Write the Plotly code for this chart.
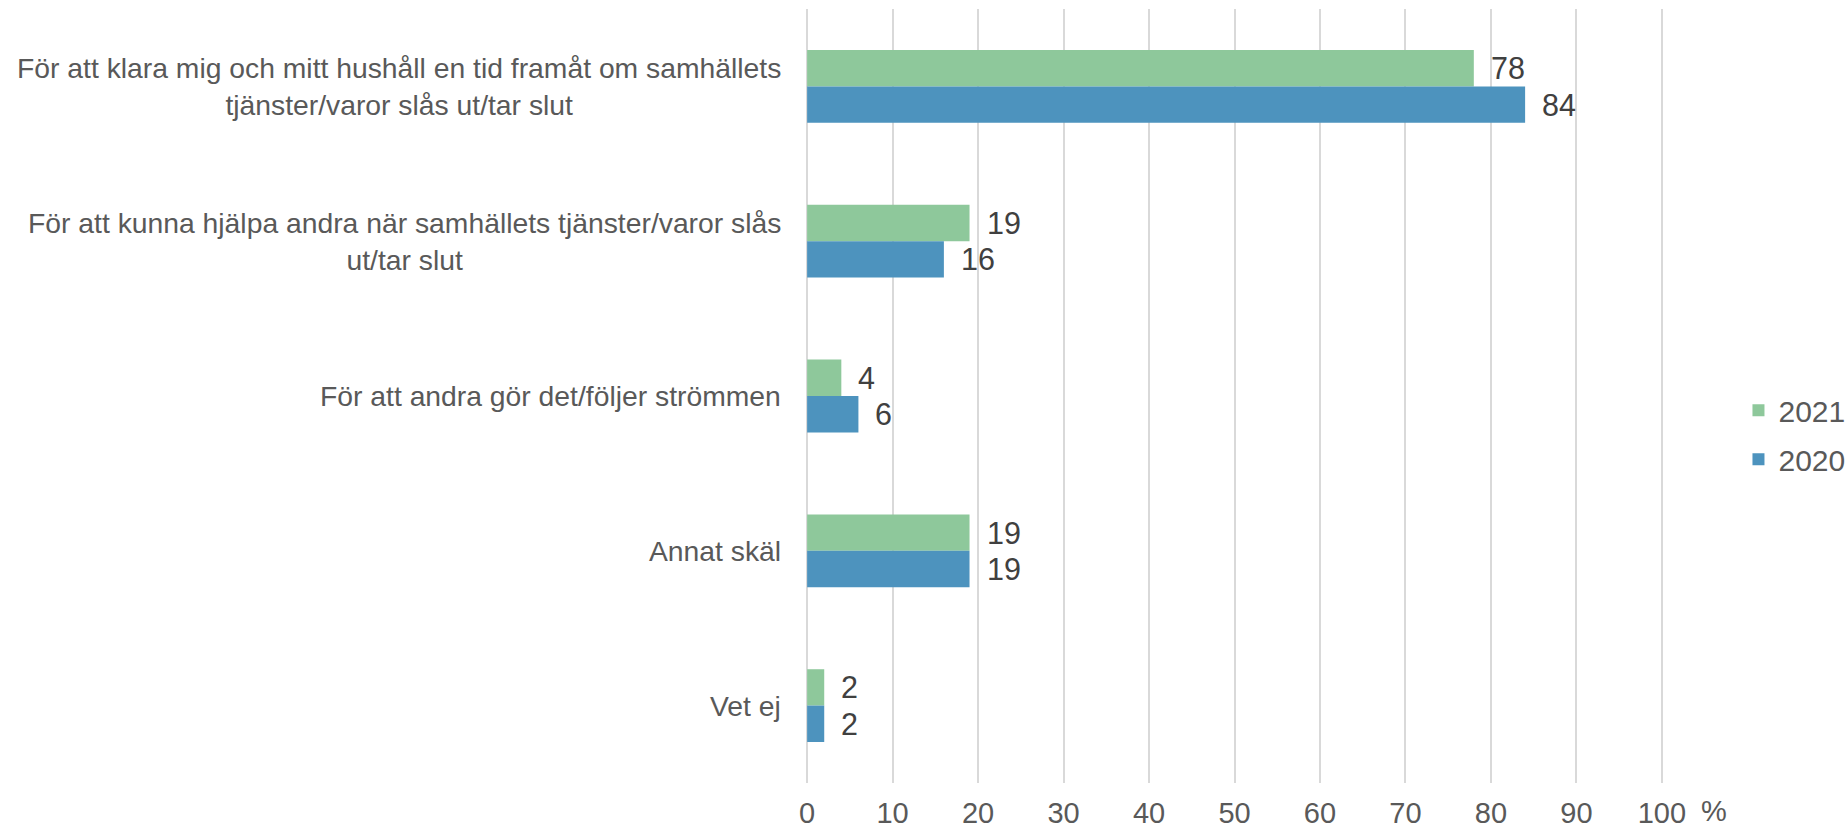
import plotly.graph_objects as go

categories = [
    "För att klara mig och mitt hushåll en tid framåt om samhällets<br>tjänster/varor slås ut/tar slut",
    "För att kunna hjälpa andra när samhällets tjänster/varor slås<br>ut/tar slut",
    "För att andra gör det/följer strömmen",
    "Annat skäl",
    "Vet ej",
]
values_2021 = [78, 19, 4, 19, 2]
values_2020 = [84, 16, 6, 19, 2]
series_names = ["2021", "2020"]
x_ticks = [0, 10, 20, 30, 40, 50, 60, 70, 80, 90, 100]

GREEN = "#8EC89B"
BLUE = "#4D93BE"
FONT = "Liberation Sans, Arial, sans-serif"
GREY = "#595959"
DARK = "#404040"

cat_ids = list(range(len(categories)))

fig = go.Figure()
fig.add_trace(go.Bar(y=cat_ids, x=values_2021, orientation="h", name=series_names[0],
                     marker=dict(color=GREEN, line=dict(width=0)), legendgroup="a"))
fig.add_trace(go.Bar(y=cat_ids, x=values_2020, orientation="h", name=series_names[1],
                     marker=dict(color=BLUE, line=dict(width=0)), legendgroup="b"))

annotations = []
for i, lab in enumerate(categories):
    annotations.append(dict(x=0, xref="paper", y=i, yref="y", text=lab, showarrow=False,
                            xanchor="right", yanchor="middle", align="center", xshift=-22,
                            font=dict(family=FONT, size=28.3, color=GREY)))
for vals, ys in ((values_2021, 18.2), (values_2020, -18.2)):
    for i, v in enumerate(vals):
        annotations.append(dict(x=v, xref="x", y=i, yref="y", text=str(v), showarrow=False,
                                xanchor="left", yanchor="middle", xshift=15, yshift=ys,
                                font=dict(family=FONT, size=30.5, color=DARK)))
annotations.append(dict(x=1, xref="paper", y=0, yref="paper", text="%", showarrow=False,
                        xanchor="center", yanchor="middle", xshift=50, yshift=-28,
                        font=dict(family=FONT, size=29, color=GREY)))

fig.update_layout(
    width=1847, height=832,
    margin=dict(l=805, r=183, t=9, b=49, autoexpand=False),
    paper_bgcolor="white", plot_bgcolor="white",
    barmode="group", bargap=0.53, bargroupgap=0,
    showlegend=True,
    legend=dict(x=1.0867, y=0.45, xanchor="left", yanchor="middle",
                traceorder="grouped", tracegroupgap=7,
                font=dict(family=FONT, size=30, color=GREY),
                bgcolor="rgba(0,0,0,0)"),
    xaxis=dict(range=[-0.25, 100.25], tickvals=x_ticks, ticktext=[str(t) for t in x_ticks],
               showgrid=True, gridcolor="#D9D9D9", gridwidth=2,
               zeroline=False, showline=False, ticks="", ticklabelstandoff=10,
               tickfont=dict(family=FONT, size=29, color=GREY)),
    yaxis=dict(range=[len(categories) - 0.5, -0.5], showticklabels=False, showgrid=False,
               zeroline=False, showline=False, ticks=""),
    annotations=annotations,
)

fig.write_html("out.html", config={"displayModeBar": False},
               post_script="document.body.style.margin='0';")
